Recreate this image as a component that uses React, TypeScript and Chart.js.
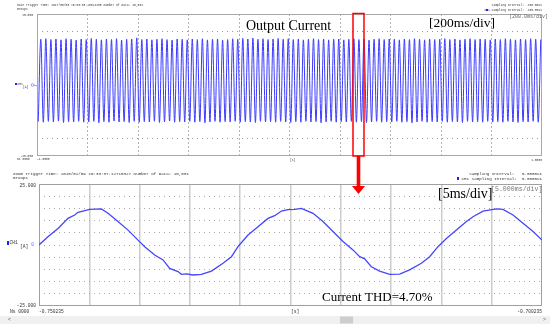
import { useEffect, useRef } from "react";
import { Chart, registerables } from "chart.js";
Chart.register(...registerables);

// ---- Main (200 ms/div) record: per-cycle extremes (A)
const mainPeaks = [
  16.1, 16.3, 16.0, 16.2, 15.9, 16.3, 16.1, 15.8, 16.2, 16.0,
  16.4, 16.1, 15.9, 16.2, 16.0, 16.3, 15.8, 16.1, 16.2, 16.6,
  16.0, 16.2, 15.9, 16.1, 16.3, 16.0, 15.8, 16.2, 16.1, 15.9,
  16.2, 16.0, 16.3, 15.9, 16.1, 16.2, 15.8, 16.0, 16.3, 16.1,
  16.4, 16.2, 16.5, 16.1, 16.3, 16.0, 16.2, 16.4, 16.1, 16.3,
  16.0, 16.2, 15.9, 16.1, 16.3, 16.0, 16.2, 15.9, 16.1, 16.2,
  15.9, 16.1, 16.3, 16.0, 16.2, 15.8, 16.1, 16.3, 16.0, 16.2,
  16.1, 15.9, 16.2, 16.0, 16.3, 16.1, 15.9, 16.2, 16.0, 16.1,
  16.3, 16.0, 16.2, 15.9, 16.1, 16.3, 16.0, 16.2, 16.1, 15.9,
  16.2, 16.0, 16.3, 16.1, 15.9, 16.2, 16.0, 16.3, 16.1, 16.0,
];
const mainTroughs = [
  -12.9, -13.1, -12.8, -13.0, -12.7, -13.2, -12.9, -13.0, -12.8, -13.1,
  -13.0, -12.8, -13.3, -12.9, -13.1, -12.7, -13.0, -12.9, -13.2, -12.8,
  -13.1, -12.9, -13.0, -12.8, -13.2, -13.0, -12.7, -13.1, -12.9, -13.0,
  -12.8, -13.1, -12.9, -13.3, -13.0, -12.8, -13.1, -12.9, -13.0, -12.8,
  -13.1, -12.9, -13.0, -13.2, -12.8, -13.0, -12.9, -13.1, -12.8, -13.0,
  -13.2, -12.9, -13.1, -12.8, -13.0, -12.9, -13.3, -13.0, -12.8, -13.1,
  -12.9, -13.0, -12.8, -13.1, -12.9, -13.2, -13.0, -12.8, -13.1, -12.9,
  -13.0, -12.8, -13.1, -12.9, -13.3, -13.0, -12.8, -13.1, -12.9, -13.0,
  -12.8, -13.1, -12.9, -13.0, -13.2, -12.8, -13.0, -12.9, -13.1, -12.8,
  -13.0, -12.9, -13.1, -12.8, -13.0, -13.2, -12.9, -13.0, -12.8, -13.1,
];
const MAIN_T0 = -0.995; // s, first trough
const MAIN_HALF_PERIOD = 0.01; // s (50 Hz)
const zoomWindow = [0.2515, 0.295]; // s, red box on main record

// ---- Zoom (5 ms/div) record, time in ms from zoom start, current in A
const zoomTimes = [
  0, 0.89, 1.89, 2.88, 3.55, 3.88, 5.04, 6.2, 6.86, 7.85, 8.85, 9.84, 10.51,
  11.5, 12.33, 12.99, 13.82, 14.16, 14.65, 15.31, 16.14, 17.14, 18.29, 19.13,
  19.85, 20.78, 21.77, 22.76, 23.43, 24.1, 24.75, 25.42, 26.08, 27.24, 28.23,
  29.22, 30.22, 31.21, 31.88, 32.37, 33.04, 33.86, 34.86, 35.85, 36.84, 38.01,
  38.83, 39.66, 40.5, 41.49, 42.49, 43.14, 44.14, 45.47, 46.12, 47.12, 48.11,
  49.11, 50.0,
];
const zoomValues = [
  0, 3.4, 6.8, 10.9, 12.3, 13.4, 14.6, 14.8, 13.0, 9.6, 6.1, 2.0, -0.7,
  -4.1, -6.1, -9.6, -10.9, -12.0, -11.8, -12.3, -12.0, -10.7, -7.5, -4.8,
  -0.3, 4.1, 7.5, 10.9, 12.0, 13.9, 14.5, 14.6, 15.0, 13.0, 9.6,
  5.5, 1.4, -2.0, -4.8, -5.7, -8.9, -10.7, -12.0, -11.9, -10.2, -7.5,
  -4.8, -0.7, 2.7, 6.1, 9.6, 11.6, 13.9, 14.8, 14.6, 12.3, 8.9,
  5.5, 2.0,
];

const mainYLabels = ["25.000", "-25.000"];
const mainXLabels = ["Ns 0000", "-1.0000", "[s]", "1.0000"];
const zoomYLabels = ["25.000", "0", "-25.000"];
const zoomXLabels = ["Ns 0000", "-0.750235", "[s]", "-0.700235"];

const W = 550;
const H = 328;
const MONO = "'Liberation Mono', 'DejaVu Sans Mono', monospace";
const SERIF = "'Liberation Serif', 'DejaVu Serif', serif";

function txt(
  ctx: CanvasRenderingContext2D,
  s: string,
  x: number,
  y: number,
  font: string,
  color: string,
  align: CanvasTextAlign = "left",
  baseline: CanvasTextBaseline = "middle"
) {
  ctx.save();
  ctx.font = font;
  ctx.fillStyle = color;
  ctx.textAlign = align;
  ctx.textBaseline = baseline;
  ctx.fillText(s, x, y);
  ctx.restore();
}

const mainDecor = {
  id: "mainDecor",
  beforeDatasetsDraw(chart: any) {
    const { ctx, chartArea: a } = chart;
    ctx.save();
    ctx.strokeStyle = "#a8a8a8";
    ctx.lineWidth = 1;
    ctx.strokeRect(a.left + 0.5, a.top + 0.5, a.right - a.left - 1, a.bottom - a.top - 1);
    ctx.restore();
  },
  afterDraw(chart: any) {
    const { ctx, chartArea: a, scales } = chart;
    const xs = scales.x;
    const ys = scales.y;
    const tiny = `3px ${MONO}`;
    // header
    txt(ctx, "Main Trigger Time: 2017/08/08 10:03:33.28314285 Number of Data: 10,001", 17, 5, tiny, "#333");
    txt(ctx, "Group1", 17, 9, tiny, "#333");
    txt(ctx, "Sampling Interval:  200.00us", a.right, 5.5, tiny, "#333", "right");
    txt(ctx, "CH1 Sampling Interval:  200.00us", a.right, 10, tiny, "#333", "right");
    ctx.fillStyle = "#2020ff";
    ctx.fillRect(486, 9, 2, 2);
    // y labels
    txt(ctx, mainYLabels[0], a.left - 4, ys.getPixelForValue(25) + 1, tiny, "#333", "right");
    txt(ctx, mainYLabels[1], a.left - 4, ys.getPixelForValue(-25), tiny, "#333", "right");
    ctx.fillStyle = "#2020ff";
    ctx.fillRect(15, 83, 2, 2);
    txt(ctx, "CH1", 17.5, 84, tiny, "#333");
    txt(ctx, "[A]", 23, 87, tiny, "#333");
    const y0 = ys.getPixelForValue(0);
    ctx.save();
    ctx.strokeStyle = "#9a9aff";
    ctx.lineWidth = 1;
    ctx.beginPath();
    ctx.arc(32.5, y0, 1.3, 0, Math.PI * 2);
    ctx.moveTo(33.8, y0);
    ctx.lineTo(a.left, y0 + 1);
    ctx.stroke();
    ctx.restore();
    // x labels
    txt(ctx, mainXLabels[0], 17, a.bottom + 3, tiny, "#333");
    txt(ctx, mainXLabels[1], a.left, a.bottom + 3, tiny, "#333");
    txt(ctx, mainXLabels[2], 290, a.bottom + 4, tiny, "#333");
    txt(ctx, mainXLabels[3], a.right, a.bottom + 4, tiny, "#333", "right");
    // annotations
    txt(ctx, "Output Current", 246, 30, `14px ${SERIF}`, "#000", "left", "alphabetic");
    txt(ctx, "[200ms/div]", 429, 27, `13.5px ${SERIF}`, "#000", "left", "alphabetic");
    txt(ctx, "[200.0ms/div]", 509, 17, `5px ${MONO}`, "#666");
    // red zoom box
    const bx0 = xs.getPixelForValue(zoomWindow[0]);
    const bx1 = xs.getPixelForValue(zoomWindow[1]);
    ctx.save();
    ctx.strokeStyle = "#ff0000";
    ctx.lineWidth = 1.5;
    ctx.strokeRect(bx0, a.top - 0.5, bx1 - bx0, a.bottom - a.top + 0.5);
    const cx = (bx0 + bx1) / 2;
    ctx.fillStyle = "#ff0000";
    ctx.fillRect(cx - 1.8, a.bottom, 3.6, 31);
    ctx.beginPath();
    ctx.moveTo(cx - 6.5, a.bottom + 30);
    ctx.lineTo(cx + 6.5, a.bottom + 30);
    ctx.lineTo(cx, a.bottom + 38);
    ctx.closePath();
    ctx.fill();
    ctx.restore();
  },
};

const zoomDecor = {
  id: "zoomDecor",
  beforeDraw(chart: any) {
    const { ctx } = chart;
    ctx.save();
    ctx.fillStyle = "#ffffff";
    ctx.fillRect(0, 0, W, H);
    ctx.restore();
  },
  beforeDatasetsDraw(chart: any) {
    const { ctx, chartArea: a } = chart;
    ctx.save();
    ctx.strokeStyle = "#a0a0a0";
    ctx.lineWidth = 1;
    ctx.strokeRect(a.left + 0.5, a.top + 0.5, a.right - a.left - 1, a.bottom - a.top - 1);
    ctx.restore();
  },
  afterDraw(chart: any) {
    const { ctx, chartArea: a, scales } = chart;
    const ys = scales.y;
    const small = `4.2px ${MONO}`;
    txt(ctx, "Zoom Trigger Time: 2018/02/09 15:33:37.12715327 Number of Data: 10,001", 13, 174, small, "#333");
    txt(ctx, "Group1", 13, 178, small, "#333");
    txt(ctx, "Sampling Interval:   5.0000us", a.right, 173.5, small, "#333", "right");
    txt(ctx, "CH1 Sampling Interval:  5.0000us", a.right, 178.5, small, "#333", "right");
    ctx.fillStyle = "#2020ff";
    ctx.fillRect(457, 177, 2, 3);
    const lab = `4.6px ${MONO}`;
    txt(ctx, zoomYLabels[0], a.left - 3, ys.getPixelForValue(25) + 1.5, lab, "#333", "right");
    txt(ctx, zoomYLabels[1], a.left - 5, ys.getPixelForValue(0), lab, "#6a6aff", "right");
    txt(ctx, zoomYLabels[2], a.left - 3, ys.getPixelForValue(-25), lab, "#333", "right");
    ctx.fillStyle = "#2020ff";
    ctx.fillRect(7, 241, 2, 4);
    txt(ctx, "CH1", 9.5, 243, lab, "#333");
    txt(ctx, "[A]", 20, 247, lab, "#333");
    txt(ctx, zoomXLabels[0], 10, a.bottom + 6, lab, "#333");
    txt(ctx, zoomXLabels[1], a.left, a.bottom + 6, lab, "#333");
    txt(ctx, zoomXLabels[2], 291, a.bottom + 6, lab, "#333");
    txt(ctx, zoomXLabels[3], a.right, a.bottom + 6, lab, "#333", "right");
    // annotations
    txt(ctx, "[5ms/div]", 438, 197.5, `14px ${SERIF}`, "#000", "left", "alphabetic");
    txt(ctx, "[5.000ms/div]", 491, 189, `6.6px ${MONO}`, "#777");
    txt(ctx, "Current THD=4.70%", 322, 300.5, `13px ${SERIF}`, "#000", "left", "alphabetic");
    // scroll bar
    ctx.save();
    ctx.fillStyle = "#f0f0f0";
    ctx.fillRect(0, 316, W, 8);
    ctx.fillStyle = "#cdcdcd";
    ctx.fillRect(340, 316.5, 13, 7);
    ctx.restore();
    txt(ctx, "<", 8, 320, `5px ${MONO}`, "#555");
    txt(ctx, ">", 543, 320, `5px ${MONO}`, "#555");
  },
};

export default function App() {
  const zoomRef = useRef<HTMLCanvasElement | null>(null);
  const mainRef = useRef<HTMLCanvasElement | null>(null);

  useEffect(() => {
    const mainData: { x: number; y: number }[] = [];
    for (let k = 0; k < mainPeaks.length; k++) {
      mainData.push({ x: MAIN_T0 + 2 * k * MAIN_HALF_PERIOD, y: mainTroughs[k] });
      mainData.push({ x: MAIN_T0 + (2 * k + 1) * MAIN_HALF_PERIOD, y: mainPeaks[k] });
    }
    const zoomData = zoomTimes.map((t, i) => ({ x: t, y: zoomValues[i] }));

    const hidden = { display: false };

    const zoomChart = new Chart(zoomRef.current!, {
      type: "line",
      data: {
        datasets: [
          {
            data: zoomData,
            borderColor: "#4545ff",
            borderWidth: 1.3,
            pointRadius: 0,
            tension: 0,
          },
        ],
      },
      options: {
        responsive: false,
        animation: false,
        layout: { padding: { left: 39, right: 8, top: 184, bottom: H - 306 } },
        plugins: { legend: hidden, tooltip: { enabled: false } },
        scales: {
          x: {
            type: "linear",
            min: 0,
            max: 50,
            ticks: { display: false, stepSize: 5 },
            border: hidden,
            grid: {
              drawTicks: false,
              lineWidth: 1.5,
              color: (c: any) =>
                c.tick && (c.tick.value <= 0 || c.tick.value >= 50) ? "rgba(0,0,0,0)" : "#cccccc",
            },
          },
          y: {
            min: -25,
            max: 25,
            ticks: { display: false, stepSize: 5 },
            border: { display: false, dash: [1, 4] },
            grid: {
              drawTicks: false,
              color: (c: any) =>
                c.tick && Math.abs(c.tick.value) >= 25 ? "rgba(0,0,0,0)" : "#a8a8a8",
            },
          },
        },
      },
      plugins: [zoomDecor],
    } as any);

    const mainChart = new Chart(mainRef.current!, {
      type: "line",
      data: {
        datasets: [
          {
            data: mainData,
            borderColor: "#3a3aff",
            borderWidth: 1,
            pointRadius: 0,
            cubicInterpolationMode: "monotone",
          },
        ],
      },
      options: {
        responsive: false,
        animation: false,
        layout: { padding: { left: 37, right: 8, top: 14, bottom: H - 156 } },
        plugins: { legend: hidden, tooltip: { enabled: false } },
        scales: {
          x: {
            type: "linear",
            min: -1,
            max: 1,
            ticks: { display: false, stepSize: 0.2 },
            border: { display: false, dash: [2, 2] },
            grid: {
              drawTicks: false,
              color: (c: any) =>
                c.tick && Math.abs(c.tick.value) > 0.99 ? "rgba(0,0,0,0)" : "#b4b4b4",
            },
          },
          y: {
            min: -25,
            max: 25,
            ticks: { display: false, stepSize: 6.25 },
            border: { display: false, dash: [1, 4] },
            grid: {
              drawTicks: false,
              color: (c: any) =>
                c.tick && Math.abs(Math.abs(c.tick.value) - 18.75) < 0.01 ? "#9a9a9a" : "rgba(0,0,0,0)",
            },
          },
        },
      },
      plugins: [mainDecor],
    } as any);

    return () => {
      mainChart.destroy();
      zoomChart.destroy();
    };
  }, []);

  const cs: any = { position: "absolute", left: 0, top: 0, width: W, height: H };
  return (
    <div style={{ position: "fixed", left: 0, top: 0, width: W, height: H, background: "#fff" }}>
      <canvas ref={zoomRef} width={W} height={H} style={cs} />
      <canvas ref={mainRef} width={W} height={H} style={cs} />
    </div>
  );
}
